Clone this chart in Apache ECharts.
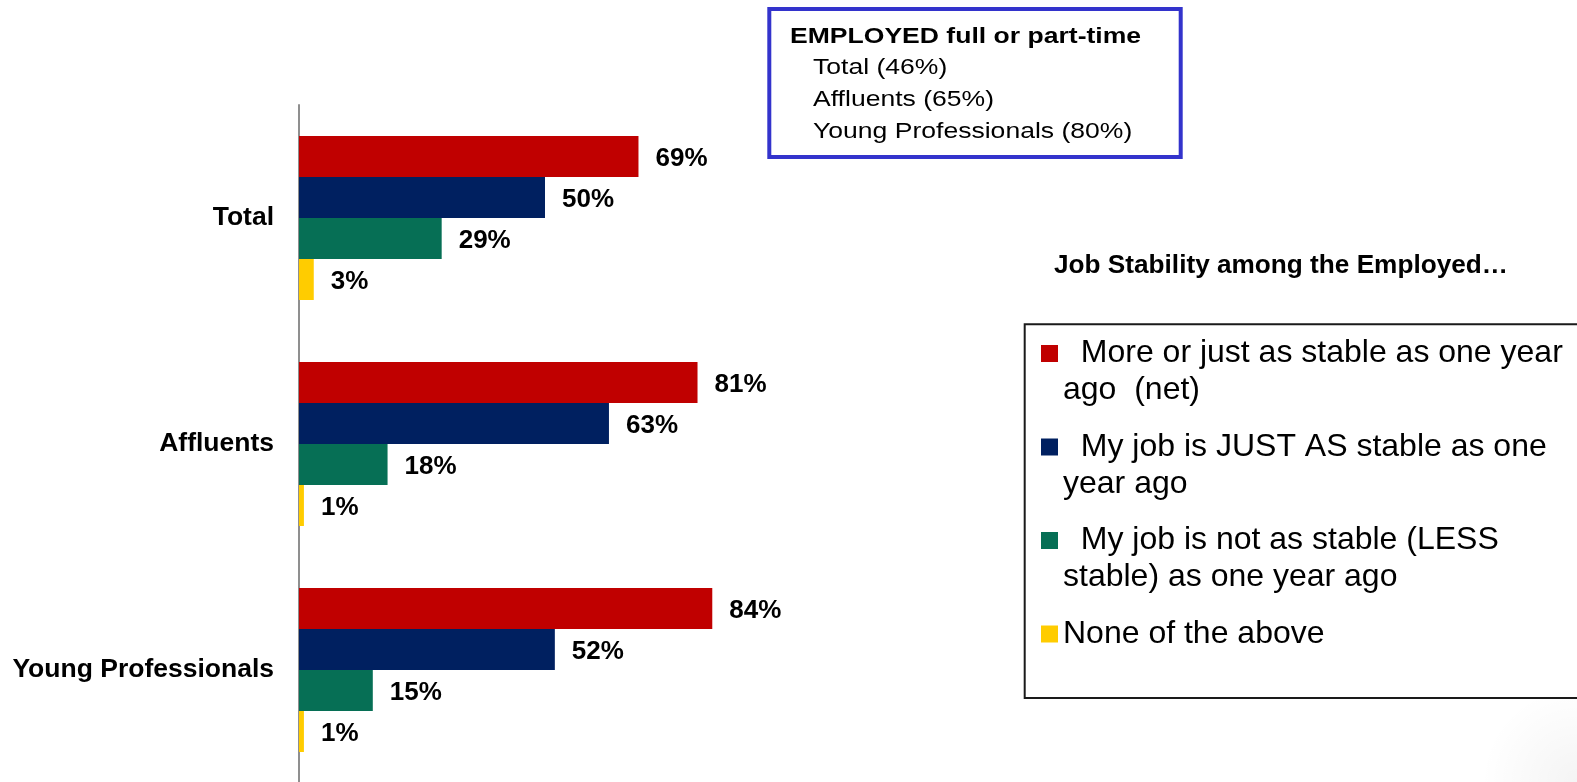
<!DOCTYPE html>
<html>
<head>
<meta charset="utf-8">
<title>Job Stability among the Employed</title>
<script src="https://cdn.jsdelivr.net/npm/echarts@6/dist/echarts.min.js"></script>
<style>
  html, body { margin: 0; padding: 0; background: #fff; }
  #chart { width: 1577px; height: 782px; }
</style>
</head>
<body>
<div id="chart"></div>
<script>
// Segments shown on the category axis (top to bottom)
const categories = ['Total', 'Affluents', 'Young Professionals'];

// Share of employed respondents per answer, in percent
const moreOrJustAsStable = [69, 81, 84];
const justAsStable = [50, 63, 52];
const lessStable = [29, 18, 15];
const noneOfTheAbove = [3, 1, 1];

// Series names and the wrapped text used for them in the legend
const seriesNames = [
  'More or just as stable as one year ago  (net)',
  'My job is JUST AS stable as one year ago',
  'My job is not as stable (LESS stable) as one year ago',
  'None of the above'
];
const legendText = [
  '\n  More or just as stable as one year\nago  (net)',
  '\n  My job is JUST AS stable as one\nyear ago',
  '\n  My job is not as stable (LESS\nstable) as one year ago',
  'None of the above'
];

// Employment rates listed in the framed note
const employedLines = ['Total (46%)', 'Affluents (65%)', 'Young Professionals (80%)'];

const colors = ['#C00000', '#002060', '#066F55', '#FFCC00'];
const FONT = '"Liberation Sans", Arial, Helvetica, sans-serif';

const chart = echarts.init(document.getElementById('chart'), null, { renderer: 'canvas' });

const values = [moreOrJustAsStable, justAsStable, lessStable, noneOfTheAbove];

const series = values.map((vals, i) => ({
  name: seriesNames[i],
  type: 'bar',
  data: vals,
  barWidth: 41,
  barGap: '0%',
  itemStyle: { color: colors[i] },
  label: {
    show: true,
    position: 'right',
    distance: 17,
    offset: [0, 2],
    formatter: '{c}%',
    color: '#000',
    fontFamily: FONT,
    fontWeight: 'bold',
    fontSize: 26
  },
  emphasis: { disabled: true }
}));

// One legend block per answer so each entry sits at its own line in the frame
const legendTops = [298, 391.5, 485, 615.5];
const legends = seriesNames.map((name, i) => ({
  left: 1041,
  top: legendTops[i],
  orient: 'vertical',
  padding: 0,
  itemWidth: 17,
  itemHeight: 17,
  icon: 'rect',
  selectedMode: false,
  data: [name],
  formatter: () => legendText[i],
  textStyle: {
    color: '#000',
    fontFamily: FONT,
    fontSize: 32,
    lineHeight: 37
  }
}));

const graphic = [
  // faint grey shading in the lower right corner
  {
    type: 'rect',
    shape: { x: 1437, y: 662, width: 140, height: 120 },
    style: {
      fill: new echarts.graphic.RadialGradient(1, 1, 0.8, [
        { offset: 0, color: 'rgba(0,0,0,0.045)' },
        { offset: 1, color: 'rgba(0,0,0,0)' }
      ])
    },
    silent: true,
    z: 0
  },
  // framed note about employment
  {
    type: 'rect',
    shape: { x: 769.3, y: 9, width: 411.4, height: 148 },
    style: { fill: '#fff', stroke: '#3333CC', lineWidth: 4 },
    z: 10
  },
  {
    type: 'text',
    x: 790, y: 37, scaleX: 1.18,
    style: {
      text: 'EMPLOYED full or part-time',
      fill: '#000', fontFamily: FONT, fontWeight: 'bold', fontSize: 22.5,
      verticalAlign: 'middle', align: 'left'
    },
    z: 11
  },
  ...employedLines.map((t, i) => ({
    type: 'text',
    x: 813, y: 68 + i * 32, scaleX: 1.18,
    style: {
      text: t,
      fill: '#000', fontFamily: FONT, fontSize: 22.5,
      verticalAlign: 'middle', align: 'left'
    },
    z: 11
  })),
  // legend heading
  {
    type: 'text',
    x: 1054, y: 265.5,
    style: {
      text: 'Job Stability among the Employed\u2026',
      fill: '#000', fontFamily: FONT, fontWeight: 'bold', fontSize: 26.2,
      verticalAlign: 'middle', align: 'left'
    },
    z: 11
  },
  // legend frame
  {
    type: 'rect',
    shape: { x: 1024.7, y: 324.3, width: 700, height: 373.7 },
    style: { fill: 'none', stroke: '#1a1a1a', lineWidth: 2 },
    z: 1
  }
];

chart.setOption({
  backgroundColor: '#fff',
  animation: false,
  color: colors,
  textStyle: { fontFamily: FONT },
  grid: {
    left: 299,
    top: 105,
    width: 492,
    height: 678,
    containLabel: false,
    outerBoundsMode: 'none'
  },
  xAxis: {
    type: 'value',
    min: 0,
    max: 100,
    show: false,
    splitLine: { show: false }
  },
  yAxis: {
    type: 'category',
    data: categories,
    inverse: true,
    axisLine: { show: true, lineStyle: { color: '#8f8f8f', width: 2 } },
    axisTick: { show: false },
    axisLabel: {
      margin: 25,
      padding: [3, 0, 0, 0],
      color: '#000',
      fontFamily: FONT,
      fontWeight: 'bold',
      fontSize: 26.5
    },
    splitLine: { show: false }
  },
  legend: legends,
  series: series,
  graphic: graphic
});
</script>
</body>
</html>
